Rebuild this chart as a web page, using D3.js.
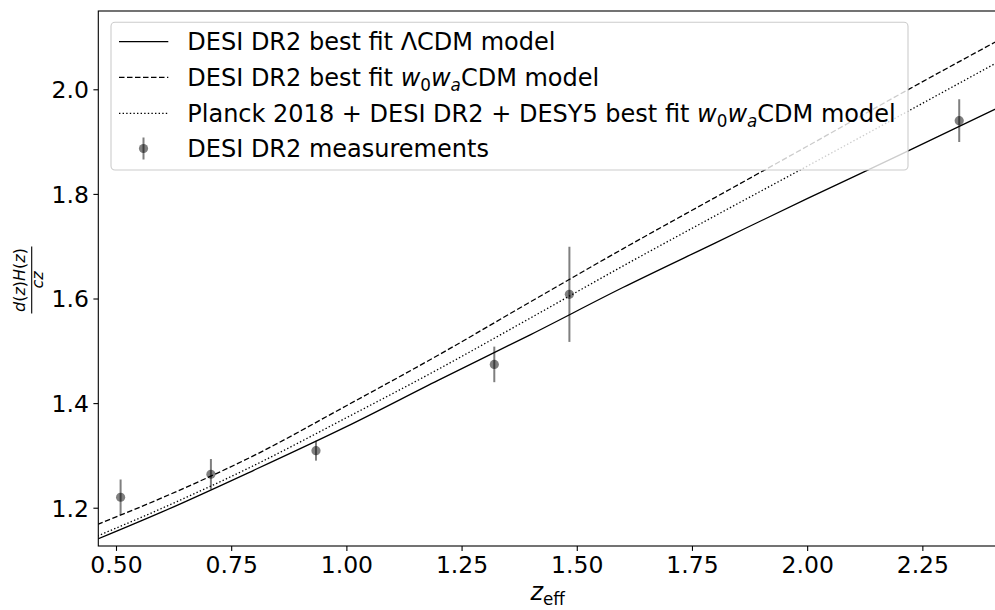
<!DOCTYPE html>
<html>
  <head>
    <meta charset="utf-8">
    <script src="https://d3js.org/d3.v7.min.js"></script>
    <style>
      body { margin: 0; background: #fff; }
      text { font-family: "DejaVu Sans", sans-serif; }
    </style>
  </head>

<body>

  <div id="chart"></div>

  <script type="text/javascript">

      var zMeas   = [0.510, 0.706, 0.934, 1.321, 1.484, 2.330];
      var valMeas = [1.220, 1.264, 1.309, 1.474, 1.608, 1.940];
      var errMeas = [0.034, 0.029, 0.019, 0.034, 0.091, 0.041];

      // MODEL CURVES, sampled at these redshifts
      var zCurve   = [0.46, 0.60, 0.80, 1.00, 1.20, 1.40, 1.60, 1.80, 2.00, 2.20, 2.42];
      var lcdm     = [1.140, 1.192, 1.272, 1.355, 1.444, 1.531, 1.621, 1.706, 1.791, 1.874, 1.967];
      var w0waDesi = [1.168, 1.219, 1.300, 1.395, 1.492, 1.594, 1.695, 1.793, 1.891, 1.990, 2.096];
      var w0waComb = [1.146, 1.199, 1.281, 1.372, 1.465, 1.563, 1.662, 1.758, 1.853, 1.949, 2.055];

      var xTicks = [0.50, 0.75, 1.00, 1.25, 1.50, 1.75, 2.00, 2.25];
      var yTicks = [1.2, 1.4, 1.6, 1.8, 2.0];

      var W = 995, H = 610;
      var L = 98.3, T = 11, R = 997, B = 546;

      var svg = d3.select("#chart").append("svg")
          .attr("width", W)
          .attr("height", H);

      var x = d3.scaleLinear().domain([0.4616, 2.412]).range([L, R]);
      var y = d3.scaleLinear().domain([1.1268, 2.1497]).range([B, T]);

      svg.append("clipPath").attr("id", "plotclip")
          .append("rect").attr("x", L).attr("y", T).attr("width", R - L).attr("height", B - T);

      var plot = svg.append("g").attr("clip-path", "url(#plotclip)");

      // CURVES
      var line = d3.line()
          .x(function (d) { return x(d[0]); })
          .y(function (d) { return y(d[1]); })
          .curve(d3.curveMonotoneX);

      var curves = [
        { vals: lcdm,     dash: null },
        { vals: w0waDesi, dash: "5.5,2.5" },
        { vals: w0waComb, dash: "1.4,2.2" }
      ];

      curves.forEach(function (c) {
        plot.append("path")
            .datum(zCurve.map(function (z, i) { return [z, c.vals[i]]; }))
            .attr("d", line)
            .style("fill", "none")
            .style("stroke", "black")
            .style("stroke-width", 1.3)
            .style("stroke-dasharray", c.dash);
      });

      // ERROR BARS + POINTS
      var meas = zMeas.map(function (z, i) { return { z: z, v: valMeas[i], e: errMeas[i] }; });
      meas.forEach(function (d) {
        plot.append("line")
            .attr("x1", x(d.z)).attr("x2", x(d.z))
            .attr("y1", y(d.v - d.e)).attr("y2", y(d.v + d.e))
            .style("stroke", "black")
            .style("stroke-opacity", 0.5)
            .style("stroke-width", 2);
        plot.append("circle")
            .attr("cx", x(d.z)).attr("cy", y(d.v))
            .attr("r", 4.6)
            .style("fill", "black")
            .style("fill-opacity", 0.5);
      });

      // AXES
      var xAxis = d3.axisBottom(x).tickValues(xTicks).tickFormat(d3.format(".2f"))
          .tickSize(4.9).tickPadding(4.5);
      var yAxis = d3.axisLeft(y).tickValues(yTicks).tickFormat(d3.format(".1f"))
          .tickSize(4.9).tickPadding(4.5);

      var gx = svg.append("g").attr("transform", "translate(0," + B + ")").call(xAxis);
      var gy = svg.append("g").attr("transform", "translate(" + L + ",0)").call(yAxis);
      [gx, gy].forEach(function (g) {
        g.select(".domain").remove();
        g.selectAll(".tick line").style("stroke", "black").style("stroke-width", 1.1);
        g.selectAll(".tick text")
            .style("font-family", "DejaVu Sans")
            .style("font-size", "23.5px")
            .style("fill", "black");
      });
      gx.selectAll(".tick text").attr("dy", "0.76em");
      gy.selectAll(".tick text").attr("dy", "0.36em");

      // SPINES (right spine lies just outside the picture)
      svg.append("rect")
          .attr("x", L).attr("y", T).attr("width", R - L).attr("height", B - T)
          .style("fill", "none")
          .style("stroke", "black")
          .style("stroke-width", 1.1);

      // AXIS LABELS
      var xl = svg.append("text")
          .attr("x", (L + R) / 2).attr("y", 600)
          .style("text-anchor", "middle")
          .style("font-size", "24px");
      xl.append("tspan").style("font-style", "italic").text("z");
      xl.append("tspan").attr("dy", 4.5).style("font-size", "16.8px").text("eff");

      var yl = svg.append("g").attr("transform", "translate(31.7,280) rotate(-90)");
      yl.append("line")
          .attr("x1", -33.5).attr("x2", 33.5).attr("y1", 0).attr("y2", 0)
          .style("stroke", "black").style("stroke-width", 1.1);
      var num = yl.append("text").attr("x", 0).attr("y", -6.5)
          .style("text-anchor", "middle").style("font-size", "16px");
      [["d", 1], ["(", 0], ["z", 1], [")", 0], ["H", 1], ["(", 0], ["z", 1], [")", 0]].forEach(function (p) {
        num.append("tspan").style("font-style", p[1] ? "italic" : "normal").text(p[0]);
      });
      yl.append("text").attr("x", 0).attr("y", 11.5)
          .style("text-anchor", "middle").style("font-size", "16px")
          .style("font-style", "italic").text("cz");

      // LEGEND
      var lg = svg.append("g");
      lg.append("rect")
          .attr("x", 111).attr("y", 22.3).attr("width", 797).attr("height", 147.7)
          .attr("rx", 4)
          .style("fill", "white").style("fill-opacity", 0.8)
          .style("stroke", "#cccccc").style("stroke-width", 1.1);

      var rowY = [41.7, 77.3, 113.3, 148.5];
      var fs = 24;

      function mathLabel(t, parts) {
        parts.forEach(function (p) {
          var ts = t.append("tspan").text(p.s);
          if (p.it) ts.style("font-style", "italic");
          if (p.sub) ts.style("font-size", (fs * 0.7) + "px").attr("dy", p.dy);
          else if (p.dy) ts.attr("dy", p.dy);
        });
      }

      var labels = [
        [{ s: "DESI DR2 best fit \u039bCDM model" }],
        [{ s: "DESI DR2 best fit " }, { s: "w", it: 1 }, { s: "0", sub: 1, dy: 5 },
         { s: "w", it: 1, dy: -5 }, { s: "a", it: 1, sub: 1, dy: 5 }, { s: "CDM model", dy: -5 }],
        [{ s: "Planck 2018 + DESI DR2 + DESY5 best fit " }, { s: "w", it: 1 }, { s: "0", sub: 1, dy: 5 },
         { s: "w", it: 1, dy: -5 }, { s: "a", it: 1, sub: 1, dy: 5 }, { s: "CDM model", dy: -5 }],
        [{ s: "DESI DR2 measurements" }]
      ];

      curves.forEach(function (c, i) {
        lg.append("line")
            .attr("x1", 119).attr("x2", 168.3)
            .attr("y1", rowY[i]).attr("y2", rowY[i])
            .style("stroke", "black").style("stroke-width", 1.3)
            .style("stroke-dasharray", c.dash);
      });
      lg.append("line")
          .attr("x1", 143.5).attr("x2", 143.5)
          .attr("y1", rowY[3] - 11).attr("y2", rowY[3] + 11)
          .style("stroke", "black").style("stroke-opacity", 0.5).style("stroke-width", 2);
      lg.append("circle")
          .attr("cx", 143.5).attr("cy", rowY[3]).attr("r", 4.6)
          .style("fill", "black").style("fill-opacity", 0.5);

      labels.forEach(function (parts, i) {
        var t = lg.append("text")
            .attr("x", 187.3).attr("y", rowY[i])
            .attr("dy", "0.36em")
            .style("font-size", fs + "px")
            .style("fill", "black");
        mathLabel(t, parts);
      });

  </script>

</body>
</html>
